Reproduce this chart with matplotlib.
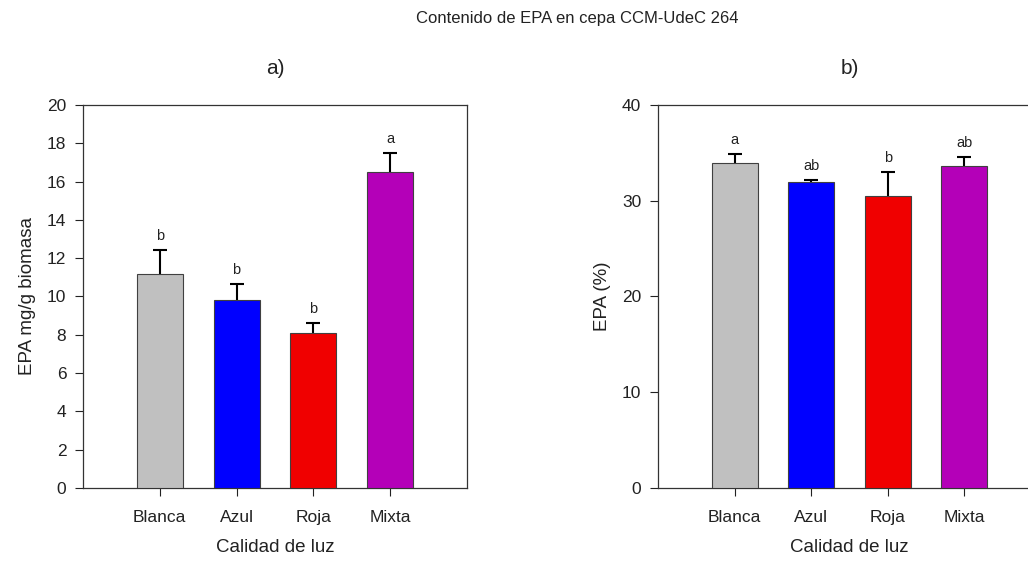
import matplotlib
matplotlib.use('Agg')
from matplotlib import pyplot as plt

plt.rcParams['font.family'] = ['Liberation Sans', 'DejaVu Sans']

categorias = ['Blanca', 'Azul', 'Roja', 'Mixta']
colores = ['#c0c0c0', '#0000ff', '#f00000', '#b400b8']

# a) EPA mg/g biomasa
epa_mg = [11.15, 9.80, 8.12, 16.52]
epa_mg_err = [1.28, 0.84, 0.48, 0.97]
letras_a = ['b', 'b', 'b', 'a']

# b) EPA (%)
epa_pct = [33.95, 31.9, 30.5, 33.6]
epa_pct_err = [0.95, 0.25, 2.5, 1.0]
letras_b = ['a', 'ab', 'b', 'ab']


def panel(ax, valores, errores, letras, ylim, yticks, ylabel, titulo):
    x = range(1, len(categorias) + 1)
    # barra encima de la mitad inferior del error (solo se ve la parte superior)
    ax.bar(x, valores, width=0.6, color=colores, edgecolor='#404040', linewidth=0.8, zorder=3)
    ax.errorbar(x, valores, yerr=errores, fmt='none',
                ecolor='black', elinewidth=1.5, capsize=5, capthick=1.5, zorder=2)
    for xi, v, e, l in zip(x, valores, errores, letras):
        ax.annotate(l, (xi, v + e), xytext=(0, 5), textcoords='offset points',
                    ha='center', va='bottom', fontsize=10.5, color='#222222')
    ax.set_xlim(0, 5)
    ax.set_ylim(*ylim)
    ax.set_yticks(yticks)
    ax.set_xticks(list(x))
    ax.set_xticklabels(categorias)
    ax.tick_params(direction='out', length=6, width=0.8, labelsize=12.5, colors='#222222', pad=6)
    ax.tick_params(axis='x', pad=10)
    for s in ax.spines.values():
        s.set_color('#333333')
        s.set_linewidth(0.9)
    ax.set_xlabel('Calidad de luz', fontsize=13.5, labelpad=10, color='#222222')
    ax.set_ylabel(ylabel, fontsize=13.5, labelpad=8, color='#222222')
    ax.set_title(titulo, fontsize=15, pad=22, color='#222222')


fig = plt.figure(figsize=(10.28, 5.61), dpi=100)
ax1 = fig.add_axes([0.0807, 0.130, 0.3735, 0.683])
ax2 = fig.add_axes([0.640, 0.130, 0.3726, 0.683])

panel(ax1, epa_mg, epa_mg_err, letras_a, (0, 20), range(0, 21, 2), 'EPA mg/g biomasa', 'a)')
panel(ax2, epa_pct, epa_pct_err, letras_b, (0, 40), range(0, 41, 10), 'EPA (%)', 'b)')

fig.text(0.562, 0.967, 'Contenido de EPA en cepa CCM-UdeC 264', ha='center', va='center',
         fontsize=12, color='#222222')

plt.savefig('out.png', dpi=100)
plt.close()
